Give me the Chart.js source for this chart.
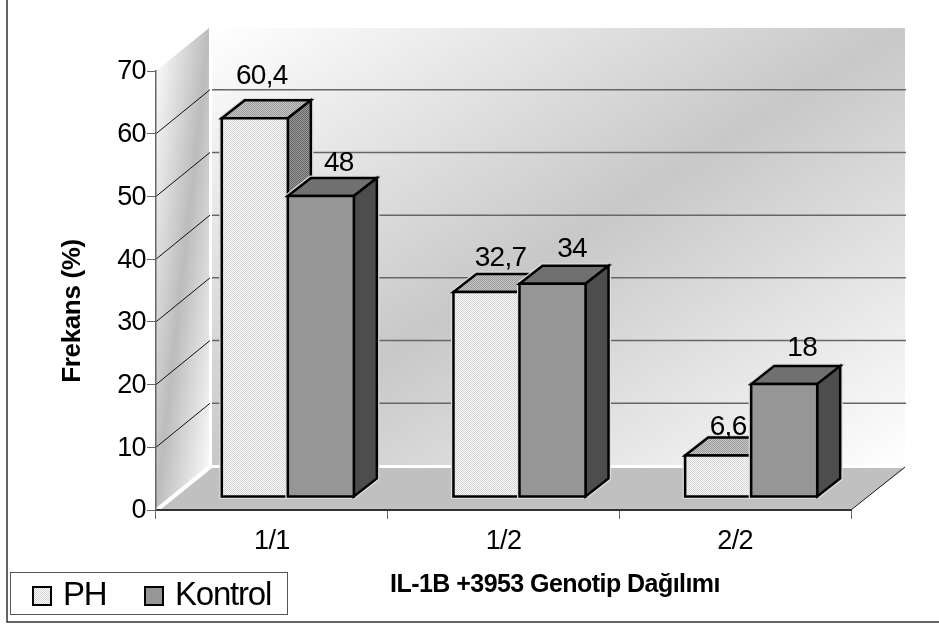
<!DOCTYPE html>
<html>
<head>
<meta charset="utf-8">
<title>IL-1B +3953 Genotip Dağılımı</title>
<script src="https://cdn.jsdelivr.net/npm/chart.js@4"></script>
<style>
  html, body { margin: 0; background: #fff; }
  canvas { display: block; }
</style>
</head>
<body>
<canvas id="genotipChart" width="939" height="625"></canvas>
<script>
const genotypes = ["1/1", "1/2", "2/2"];
const phValues = [60.4, 32.7, 6.6];
const kontrolValues = [48, 34, 18];
const seriesNames = ["PH", "Kontrol"];
const yTitle = "Frekans (%)";
const xTitle = "IL-1B +3953 Genotip Dağılımı";

const fontFamily = '"Liberation Sans", Arial, sans-serif';

// how far the back wall and the bars sit behind the axis plane
const wallDepth = {x: 54, y: -44};
const barShift = {x: 16, y: -13};
const barDepth = {x: 23, y: -18};

// value labels were placed by hand around each bar, per series and category
const labelNudge = [
    [[7, -34], [14, -26], [10, -21]],
    [[18, -25], [19.5, -27], [18, -28]]
];

function stipple(a, b) {
    const c = document.createElement("canvas");
    c.width = c.height = 2;
    const g = c.getContext("2d");
    g.fillStyle = a;
    g.fillRect(0, 0, 2, 2);
    g.fillStyle = b;
    g.fillRect(0, 0, 1, 1);
    g.fillRect(1, 1, 1, 1);
    return g.createPattern(c, "repeat");
}

const faces = [
    {front: stipple("#ffffff", "#d0d0d0"), top: stipple("#c8c8c8", "#999999"), side: stipple("#999999", "#666666")},
    {front: "#969696", top: "#707070", side: "#4d4d4d"}
];

function polygon(ctx, pts) {
    ctx.beginPath();
    ctx.moveTo(pts[0][0], pts[0][1]);
    for (let i = 1; i < pts.length; i++) ctx.lineTo(pts[i][0], pts[i][1]);
    ctx.closePath();
}

// three stop gradient that runs corner to corner of a box, darkest on the other diagonal
function diagonalGradient(ctx, x0, y0, x1, y1, mid) {
    const w = x1 - x0, h = y1 - y0;
    const len = Math.hypot(w, h);
    const nx = h / len, ny = w / len;
    const reach = (w * h) / len;
    const cx = (x0 + x1) / 2, cy = (y0 + y1) / 2;
    const g = ctx.createLinearGradient(cx - nx * reach, cy - ny * reach, cx + nx * reach, cy + ny * reach);
    g.addColorStop(0, "#ffffff");
    g.addColorStop(0.5, mid);
    g.addColorStop(1, "#ffffff");
    return g;
}

function drawWalls(chart) {
    const ctx = chart.ctx;
    const yScale = chart.scales.y, xScale = chart.scales.x;
    const left = xScale.left, right = xScale.right;
    const bottom = yScale.bottom, top = yScale.top;
    const backLeft = left + wallDepth.x, backRight = right + wallDepth.x;
    const backTop = top + wallDepth.y, backBottom = bottom + wallDepth.y;

    ctx.save();
    // back wall
    ctx.fillStyle = diagonalGradient(ctx, backLeft + 2, backTop, backRight, backBottom, "#c8c8c8");
    ctx.fillRect(backLeft + 2, backTop + 1, backRight - backLeft - 2, backBottom - backTop - 2);
    // side wall
    ctx.fillStyle = diagonalGradient(ctx, left, backTop, backLeft, bottom, "#bcbcbc");
    polygon(ctx, [[left, top], [backLeft - 1, backTop + 1], [backLeft - 1, backBottom - 1], [left, bottom - 2]]);
    ctx.fill();
    // floor
    ctx.fillStyle = "#c0c0c0";
    polygon(ctx, [[left + 4, bottom], [backLeft + 2, backBottom + 2], [backRight, backBottom + 2], [right, bottom]]);
    ctx.fill();
    ctx.strokeStyle = "#222";
    ctx.lineWidth = 1;
    ctx.beginPath();
    ctx.moveTo(right, bottom);
    ctx.lineTo(backRight, backBottom + 1);
    ctx.stroke();

    // gridlines, running along the side wall and across the back
    for (const tick of yScale.ticks) {
        if (tick.value === 0 || tick.value === yScale.max) continue;
        const y = yScale.getPixelForValue(tick.value);
        ctx.strokeStyle = "#111";
        ctx.lineWidth = 1;
        ctx.beginPath();
        ctx.moveTo(left, y);
        ctx.lineTo(backLeft, y + wallDepth.y);
        ctx.stroke();
        ctx.strokeStyle = "#666";
        ctx.lineWidth = 1.5;
        ctx.beginPath();
        ctx.moveTo(backLeft + 2, y + wallDepth.y);
        ctx.lineTo(backRight + 1, y + wallDepth.y);
        ctx.stroke();
    }
    ctx.restore();
}

function drawBar(ctx, bar, face) {
    const l = bar.x - bar.width / 2 + barShift.x;
    const r = l + bar.width;
    const t = bar.y + barShift.y;
    const b = bar.base + barShift.y;
    const dx = barDepth.x, dy = barDepth.y;
    const outline = [[l, b], [l, t], [l + dx, t + dy], [r + dx, t + dy], [r + dx, b + dy], [r, b]];

    ctx.save();
    ctx.lineJoin = "miter";
    polygon(ctx, outline);
    ctx.strokeStyle = "#dcdcdc";
    ctx.lineWidth = 5;
    ctx.stroke();

    ctx.strokeStyle = "#000";
    ctx.lineWidth = 2.5;
    polygon(ctx, [[l, t], [l + dx, t + dy], [r + dx, t + dy], [r, t]]);
    ctx.fillStyle = face.top;
    ctx.fill();
    ctx.stroke();
    polygon(ctx, [[r, t], [r + dx, t + dy], [r + dx, b + dy], [r, b]]);
    ctx.fillStyle = face.side;
    ctx.fill();
    ctx.stroke();
    polygon(ctx, [[l, t], [r, t], [r, b], [l, b]]);
    ctx.fillStyle = face.front;
    ctx.fill();
    ctx.stroke();
    ctx.restore();
}

function drawValueLabels(chart) {
    const ctx = chart.ctx;
    ctx.save();
    ctx.font = "28px " + fontFamily;
    ctx.letterSpacing = "-0.7px";
    ctx.fillStyle = "#000";
    ctx.textAlign = "center";
    ctx.textBaseline = "alphabetic";
    chart.data.datasets.forEach((dataset, d) => {
        chart.getDatasetMeta(d).data.forEach((bar, i) => {
            const text = String(dataset.data[i]).replace(".", ",");
            const x = bar.x + barShift.x + labelNudge[d][i][0];
            const y = bar.y + barShift.y + labelNudge[d][i][1];
            ctx.fillText(text, x, y);
        });
    });
    ctx.restore();
}

function drawAxisTitles(chart) {
    const ctx = chart.ctx;
    ctx.save();
    ctx.fillStyle = "#000";
    ctx.font = "bold 25px " + fontFamily;
    ctx.letterSpacing = "-0.55px";
    ctx.textAlign = "center";
    ctx.textBaseline = "alphabetic";
    ctx.fillText(xTitle, 555, 592);
    ctx.translate(80, 311);
    ctx.rotate(-Math.PI / 2);
    ctx.font = "bold 26px " + fontFamily;
    ctx.letterSpacing = "-0.35px";
    ctx.fillText(yTitle, 0, 0);
    ctx.restore();
}

function drawLegend(chart) {
    const ctx = chart.ctx;
    const swatchX = [33, 145];
    const textX = [63, 175];
    ctx.save();
    ctx.fillStyle = "#fff";
    ctx.fillRect(10.5, 572.5, 277, 42);
    ctx.strokeStyle = "#555";
    ctx.lineWidth = 1;
    ctx.strokeRect(10.5, 572.5, 277, 42);
    ctx.font = "33px " + fontFamily;
    ctx.letterSpacing = "-1.2px";
    ctx.textBaseline = "alphabetic";
    chart.data.datasets.forEach((dataset, d) => {
        ctx.fillStyle = dataset.backgroundColor;
        ctx.fillRect(swatchX[d], 587, 18, 18);
        ctx.strokeStyle = "#000";
        ctx.lineWidth = 2;
        ctx.strokeRect(swatchX[d], 587, 18, 18);
        ctx.fillStyle = "#000";
        ctx.fillText(dataset.label, textX[d], 605);
    });
    ctx.restore();
}

const bars3d = {
    id: "bars3d",
    beforeDraw(chart) {
        const ctx = chart.ctx;
        ctx.save();
        ctx.fillStyle = "#fff";
        ctx.fillRect(0, 0, chart.width, chart.height);
        // outer frame only shows on the left and bottom
        ctx.strokeStyle = "#333";
        ctx.lineWidth = 1.5;
        ctx.beginPath();
        ctx.moveTo(7, 0);
        ctx.lineTo(7, 622);
        ctx.lineTo(chart.width, 622);
        ctx.stroke();
        ctx.restore();
        drawWalls(chart);
        // tick labels are set a little tight
        ctx.letterSpacing = "-0.6px";
    },
    // the boxes are drawn together below, first series first
    beforeDatasetDraw() {
        return false;
    },
    afterDatasetsDraw(chart) {
        const ctx = chart.ctx;
        chart.data.labels.forEach((label, i) => {
            chart.data.datasets.forEach((dataset, d) => {
                drawBar(ctx, chart.getDatasetMeta(d).data[i], faces[d]);
            });
        });
        drawValueLabels(chart);
    },
    afterDraw(chart) {
        drawAxisTitles(chart);
        drawLegend(chart);
    }
};

Chart.defaults.font.family = fontFamily;
Chart.defaults.color = "#000";

new Chart(document.getElementById("genotipChart"), {
    type: "bar",
    data: {
        labels: genotypes,
        datasets: [
            {label: seriesNames[0], data: phValues, backgroundColor: faces[0].front, categoryPercentage: 0.57, barPercentage: 1},
            {label: seriesNames[1], data: kontrolValues, backgroundColor: faces[1].front, categoryPercentage: 0.57, barPercentage: 1}
        ]
    },
    options: {
        responsive: false,
        animation: false,
        events: [],
        layout: {padding: {left: 56, top: 71, right: 88, bottom: 15}},
        plugins: {legend: {display: false}, tooltip: {enabled: false}},
        scales: {
            x: {
                afterFit(scale) { scale.height = 100; },
                grid: {drawOnChartArea: false, drawTicks: true, tickLength: 9, color: "#666"},
                border: {color: "#333", width: 2},
                ticks: {font: {size: 27}, padding: 6, maxRotation: 0}
            },
            y: {
                min: 0,
                max: 70,
                afterFit(scale) { scale.width = 100; },
                grid: {drawOnChartArea: false, drawTicks: true, tickLength: 9, color: "#666"},
                border: {color: "#666", width: 1.5},
                ticks: {stepSize: 10, font: {size: 27}, padding: 1, labelOffset: 1}
            }
        }
    },
    plugins: [bars3d]
});
</script>
</body>
</html>
